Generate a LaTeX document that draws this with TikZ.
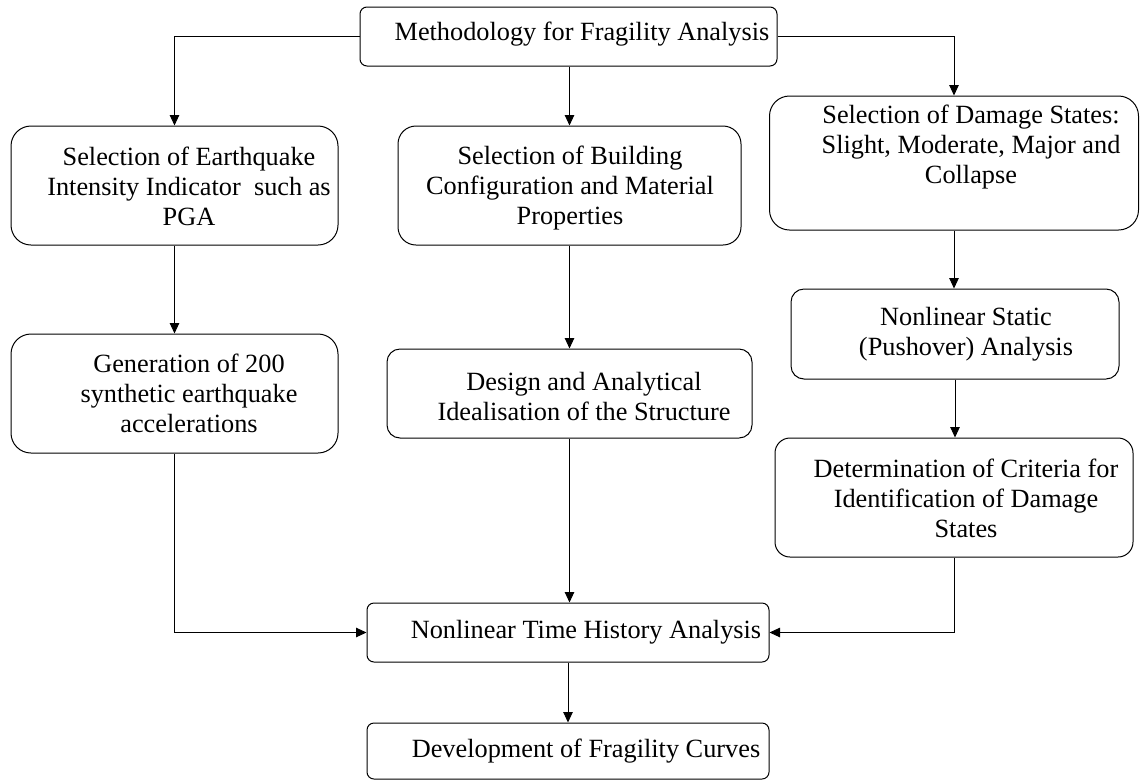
\documentclass[tikz,border=0pt]{standalone}
\usepackage{fontspec}
\setmainfont{Liberation Serif}
\usetikzlibrary{arrows.meta}
\begin{document}
\begin{tikzpicture}[x=1pt,y=-1pt,
  box/.style={draw=black, line width=1pt, inner sep=0pt, fill=none},
  txt/.style={inner sep=0pt, align=center, font=\fontsize{26.3}{30}\selectfont},
  arr/.style={draw=black, line width=1pt, -{Triangle[length=10.5pt,width=9.5pt]}}]
\useasboundingbox (0,0) rectangle (1140,780);
% boxes
\node[box, minimum width=417pt, minimum height=59pt, rounded corners=7pt] (top) at (568.5,36.5) {};
\node[box, minimum width=327pt, minimum height=119pt, rounded corners=20pt] (b1) at (174.5,185.5) {};
\node[box, minimum width=343pt, minimum height=119pt, rounded corners=18pt] (b2) at (569.5,185.5) {};
\node[box, minimum width=369pt, minimum height=134pt, rounded corners=20pt] (b3) at (954,163) {};
\node[box, minimum width=327pt, minimum height=119pt, rounded corners=20pt] (b4) at (174.5,393.5) {};
\node[box, minimum width=365pt, minimum height=89pt, rounded corners=13pt] (b5) at (569.5,393.5) {};
\node[box, minimum width=328pt, minimum height=90pt, rounded corners=13pt] (b6) at (955,334) {};
\node[box, minimum width=358pt, minimum height=119pt, rounded corners=15pt] (b7) at (954,497.5) {};
\node[box, minimum width=402pt, minimum height=59pt, rounded corners=7pt] (b8) at (568,632.5) {};
\node[box, minimum width=402pt, minimum height=56pt, rounded corners=7pt] (b9) at (568,751) {};
% texts
\node[txt] (t0) at (582,34) {Methodology for Fragility Analysis};
\node[txt] (t1) at (189,186) {Selection of Earthquake\\Intensity Indicator~ such as\\PGA};
\node[txt] (t2) at (570,188) {Selection of Building\\Configuration and Material\\Properties};
\node[txt] (t3) at (971,147) {Selection of Damage States:\\Slight, Moderate, Major and\\Collapse};
\node[txt] (t4) at (189,393) {Generation of 200\\synthetic earthquake\\accelerations};
\node[txt] (t5) at (584,396) {Design and Analytical\\Idealisation of the Structure};
\node[txt] (t6) at (966,334) {Nonlinear Static\\(Pushover) Analysis};
\node[txt] (t7) at (966,498) {Determination of Criteria for\\Identification of Damage\\States};
\node[txt] (t8) at (586,632) {Nonlinear Time History Analysis};
\node[txt] (t9) at (586,751) {Development of Fragility Curves};
% connectors
\draw[arr] (top.west) -| (b1.north);
\draw[arr] (b2.north |- top.south) -- (b2.north);
\draw[arr] (top.east) -| (b3.north);
\draw[arr] (b1.south) -- (b4.north);
\draw[arr] (b2.south) -- (b5.north);
\draw[arr] (b3.south) -- (b3.south |- b6.north);
\draw[arr] (b6.south) -- (b6.south |- b7.north);
\draw[arr] (b4.south) |- (b8.west);
\draw[arr] (b5.south) -- (b5.south |- b8.north);
\draw[arr] (b7.south) |- (b8.east);
\draw[arr] (b8.south) -- (b9.north);
\end{tikzpicture}
\end{document}
